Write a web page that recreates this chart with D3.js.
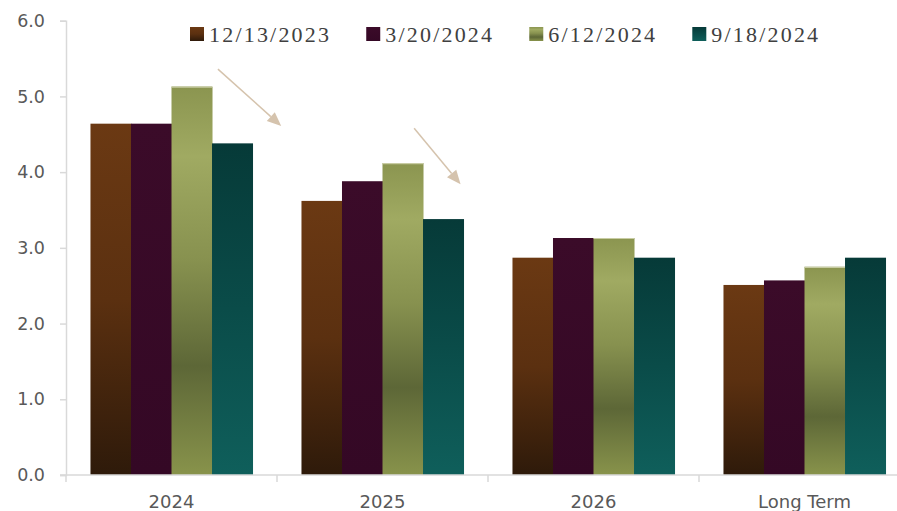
<!DOCTYPE html>
<html>
<head>
<meta charset="utf-8">
<script src="https://cdn.jsdelivr.net/npm/d3@7"></script>
<style>
  body { margin: 0; background: #fff; }
  svg { display: block; }
</style>
</head>
<body>
<div id="chart"></div>
<script>
const categories = ["2024", "2025", "2026", "Long Term"];
const seriesNames = ["12/13/2023", "3/20/2024", "6/12/2024", "9/18/2024"];
const dec2023 = [4.64, 3.62, 2.87, 2.51];
const mar2024 = [4.64, 3.88, 3.13, 2.57];
const jun2024 = [5.13, 4.12, 3.13, 2.75];
const sep2024 = [4.38, 3.38, 2.87, 2.87];
const yTicks = [0, 1, 2, 3, 4, 5, 6];
// arrows in (category units, value) space
const arrows = [
  [[0.72, 5.36], [1.02, 4.61]],
  [[1.65, 4.58], [1.87, 3.84]]
];

const series = [dec2023, mar2024, jun2024, sep2024];

const width = 897, height = 511;
const plotLeft = 66, plotRight = 910, plotTop = 20.7, plotBottom = 475;

const svg = d3.select("#chart").append("svg")
  .attr("width", width).attr("height", height);

const defs = svg.append("defs");
const gradients = [
  [[0, "#6b3913"], [0.5, "#5b3010"], [1, "#2e1a0a"]],
  [[0, "#3b0b29"], [1, "#340825"]],
  [[0, "#8b9550"], [0.18, "#a0aa62"], [0.45, "#87914f"], [0.72, "#5d6737"], [1, "#88934b"]],
  [[0, "#063a38"], [0.5, "#0a4c49"], [1, "#0f5f5b"]]
];
gradients.forEach((stops, i) => {
  const g = defs.append("linearGradient").attr("id", "grad" + i)
    .attr("x1", 0).attr("y1", 0).attr("x2", 0).attr("y2", 1);
  stops.forEach(s => g.append("stop").attr("offset", s[0]).attr("stop-color", s[1]));
});

const x0 = d3.scaleBand().domain(categories).range([plotLeft, plotRight])
  .paddingInner(0.232).paddingOuter(0.116);
const x1 = d3.scaleBand().domain(seriesNames).range([0, x0.bandwidth()]);
const y = d3.scaleLinear().domain([0, 6]).range([plotBottom, plotTop]);
const xc = d3.scaleLinear().domain([0, categories.length]).range([plotLeft, plotRight]);

// y axis
const yAxis = svg.append("g").attr("transform", `translate(${plotLeft},0)`)
  .call(d3.axisLeft(y).tickValues(yTicks).tickFormat(d3.format(".1f")).tickSize(6).tickPadding(15));
yAxis.select(".domain").attr("stroke", "#d9d9d9").attr("stroke-width", 1.5);
yAxis.selectAll(".tick line").attr("stroke", "#d9d9d9").attr("stroke-width", 1.5);
yAxis.selectAll(".tick text")
  .attr("fill", "#595959")
  .style("font-family", "DejaVu Sans, sans-serif")
  .style("font-size", "17.5px");

// bars
const groups = svg.append("g").selectAll("g")
  .data(categories).join("g")
  .attr("transform", d => `translate(${x0(d)},0)`);

const barData = (c, ci) => seriesNames.map((s, si) => ({ s, si, v: series[si][ci] }));

groups.selectAll("rect")
  .data(barData)
  .join("rect")
  .attr("x", d => x1(d.s))
  .attr("width", x1.bandwidth() + 0.5)
  .attr("y", d => y(d.v))
  .attr("height", d => y(0) - y(d.v))
  .attr("fill", d => `url(#grad${d.si})`);

// light top edge on the green bars
groups.selectAll("line.edge")
  .data((c, ci) => barData(c, ci).filter(d => d.si === 2))
  .join("line")
  .attr("class", "edge")
  .attr("x1", d => x1(d.s)).attr("x2", d => x1(d.s) + x1.bandwidth())
  .attr("y1", d => y(d.v) + 0.5).attr("y2", d => y(d.v) + 0.5)
  .attr("stroke", "#c8cca3").attr("stroke-width", 1.2);

// x axis
const xAxis = svg.append("g").attr("transform", `translate(0,${plotBottom})`);
xAxis.append("line")
  .attr("x1", plotLeft - 6).attr("x2", width)
  .attr("stroke", "#d9d9d9").attr("stroke-width", 1.5);
xAxis.selectAll(".sep")
  .data(d3.range(categories.length + 1))
  .join("line")
  .attr("class", "sep")
  .attr("x1", d => xc(d)).attr("x2", d => xc(d))
  .attr("y1", 0).attr("y2", 7)
  .attr("stroke", "#d9d9d9").attr("stroke-width", 1.5);
xAxis.selectAll(".cat")
  .data(categories)
  .join("text")
  .attr("class", "cat")
  .attr("x", d => x0(d) + x0.bandwidth() / 2)
  .attr("y", 33)
  .attr("text-anchor", "middle")
  .attr("fill", "#595959")
  .style("font-family", "DejaVu Sans, sans-serif")
  .style("font-size", "18px")
  .text(d => d);

// arrows
const arrowColor = "#d5c3ad";
arrows.forEach(a => {
  const xs = xc(a[0][0]), ys = y(a[0][1]), xe = xc(a[1][0]), ye = y(a[1][1]);
  const ang = Math.atan2(ye - ys, xe - xs);
  const hl = 14, hw = 6;
  const bx = xe - hl * Math.cos(ang), by = ye - hl * Math.sin(ang);
  svg.append("line")
    .attr("x1", xs).attr("y1", ys).attr("x2", bx).attr("y2", by)
    .attr("stroke", arrowColor).attr("stroke-width", 1.5);
  svg.append("path")
    .attr("d", d3.line()([
      [xe, ye],
      [bx + hw * Math.sin(ang), by - hw * Math.cos(ang)],
      [bx - hw * Math.sin(ang), by + hw * Math.cos(ang)]
    ]) + "Z")
    .attr("fill", arrowColor);
});

// legend
const legend = svg.append("g");
let lx = 190;
seriesNames.forEach((name, i) => {
  legend.append("rect")
    .attr("x", lx).attr("y", 27).attr("width", 14).attr("height", 14)
    .attr("fill", `url(#grad${i})`);
  const t = legend.append("text")
    .attr("x", lx + 19).attr("y", 41.5)
    .attr("fill", "#404040")
    .style("font-family", "Liberation Serif, serif")
    .style("font-size", "22px")
    .style("letter-spacing", "2.2px")
    .text(name);
  lx += 19 + t.node().getComputedTextLength() + 35;
});
</script>
</body>
</html>
